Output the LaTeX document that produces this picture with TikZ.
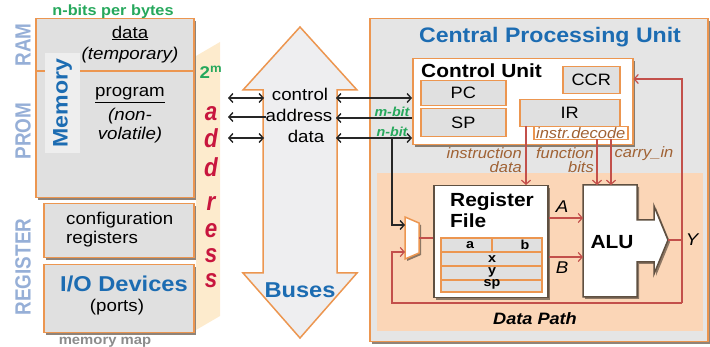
\documentclass[tikz,border=0pt]{standalone}
\usepackage{fontspec}
\setmainfont[FakeStretch=1.1]{Liberation Sans}
\newfontfamily\narrowfont[FakeStretch=0.86]{Liberation Sans}
\usetikzlibrary{arrows.meta,shadows}
\definecolor{orng}{RGB}{236,150,80}
\definecolor{boxgray}{RGB}{224,224,224}
\definecolor{cpugray}{RGB}{229,229,229}
\definecolor{peach}{RGB}{251,214,183}
\definecolor{beige}{RGB}{253,235,205}
\definecolor{redarr}{RGB}{195,80,75}
\definecolor{browntxt}{RGB}{160,98,52}
\definecolor{blu}{RGB}{28,108,178}
\definecolor{grn}{RGB}{38,168,92}
\definecolor{crim}{RGB}{200,22,62}
\definecolor{lblue}{RGB}{150,175,215}
\definecolor{busgray}{RGB}{238,238,240}
\definecolor{darkbrd}{RGB}{95,80,65}
\definecolor{mapgray}{RGB}{140,140,140}
\definecolor{membox}{RGB}{238,238,238}
\newcommand{\myfs}[2]{\fontsize{#1}{#2}\selectfont}
\begin{document}
\begin{tikzpicture}[x=1pt,y=-1pt,
  box/.style={draw=orng,line width=1.5pt,fill=boxgray,inner sep=0pt,anchor=north west},
  wbox/.style={draw=orng,line width=1.5pt,fill=white,inner sep=0pt,anchor=north west},
  shad/.style={drop shadow={shadow xshift=2pt,shadow yshift=-2pt,opacity=0.7,fill=darkbrd}},
  txt/.style={inner sep=0pt,font=\myfs{17}{19}},
  btip/.tip={Straight Barb[length=4pt,width=9pt]},
  blk/.style={draw=black!85,line width=1.4pt},
  red/.style={draw=redarr,line width=1.2pt},
  brn/.style={inner sep=0pt,text=browntxt,font=\myfs{15}{14}\itshape},
  vlab/.style={rotate=90,text=lblue,inner sep=0pt,font=\narrowfont\myfs{22}{24}\bfseries},
  addr/.style={text=crim,inner sep=0pt,font=\narrowfont\myfs{26}{26}\bfseries\itshape}]
\useasboundingbox (0,0) rectangle (710,347);
\clip (0,0) rectangle (710,347);

% ---------- memory side ----------
\node[box,minimum width=158,minimum height=179,shad] (mem) at (35,18) {};
\draw[orng,line width=2.5pt] (35,71) -- (193,71);
\node[txt,text=grn,font=\myfs{14.8}{16}\bfseries] (nbits) at (113,12) {n-bits per bytes};
\node[txt] (data) at (130,33) {\underline{data}};
\node[txt,font=\myfs{17}{19}\itshape] (temp) at (130,55) {(temporary)};
\node[fill=membox,minimum width=35,minimum height=100,inner sep=0pt,anchor=north west] (membx) at (45,53) {};
\node[rotate=90,text=blu,inner sep=0pt,font=\myfs{21}{22}\bfseries] (memlab) at (membx.center) {Memory};
\node[txt] (prog) at (130,95) {\underline{program}};
\node[txt,align=center,font=\myfs{17}{19}\itshape] (nonv) at (130,126) {(non-\\volatile)};

\node[box,minimum width=150,minimum height=54,shad] (cfg) at (43,203) {};
\node[txt,align=left,anchor=west] (cfgt) at (66,230) {configuration\\registers};
\node[box,minimum width=150,minimum height=68,shad] (io) at (43,264) {};
\node[txt,text=blu,font=\myfs{21.5}{22}\bfseries] (iot) at (124,284) {I/O Devices};
\node[txt] (ports) at (117,307) {(ports)};
\node[txt,text=mapgray,font=\myfs{13.5}{14}\bfseries] (mmap) at (105,342) {memory map};

\node[vlab] (ram) at (23,45) {RAM};
\node[vlab] (prom) at (23,131) {PROM};
\node[vlab] (regl) at (23,267) {REGISTER};

% address strip
\fill[beige] (196,56) -- (220,42) -- (220,316) -- (196,330) -- cycle;
\node[text=grn,inner sep=0pt,font=\myfs{17}{18}\bfseries] (twom) at (211,72) {2\textsuperscript{m}};
\node[addr] (a1) at (211,114) {a};
\node[addr] (a2) at (211,138) {d};
\node[addr] (a3) at (211,167) {d};
\node[addr] (a4) at (211,204) {r};
\node[addr] (a5) at (211,231) {e};
\node[addr] (a6) at (211,256) {s};
\node[addr] (a7) at (211,281) {s};

% ---------- buses ----------
\draw[draw=orng,line width=1.5pt,fill=busgray] (300,27) -- (357,90) -- (337,90) -- (337,273) -- (357,273) -- (300,338) -- (243,273) -- (263,273) -- (263,90) -- (243,90) -- cycle;
\node[txt,text=blu,font=\myfs{21.5}{22}\bfseries] (buses) at (300,290) {Buses};
\node[txt] (bctl) at (300,94) {control};
\node[txt] (badr) at (299,115) {address};
\node[txt] (bdat) at (306,136) {data};

% ---------- CPU ----------
\node[draw=orng,line width=1.5pt,fill=cpugray,inner sep=0pt,anchor=north west,minimum width=338,minimum height=323,shad] (cpu) at (369,18) {};
\node[txt,text=blu,font=\myfs{21}{22}\bfseries] (cput) at (550,37) {Central Processing Unit};
\node[wbox,minimum width=220,minimum height=86,shad] (cu) at (412,58) {};
\node[txt,anchor=west,font=\myfs{19}{20}\bfseries] (cut) at (421,71) {Control Unit};
\node[box,minimum width=85,minimum height=25,font=\myfs{16.5}{17}] (pc) at (420,80) {PC};
\node[box,minimum width=85,minimum height=28,font=\myfs{16.5}{17}] (sp) at (420,108) {SP};
\node[box,minimum width=57,minimum height=27,font=\myfs{16.5}{17}] (ccr) at (562,66) {CCR};
\node[box,minimum width=100,minimum height=27,font=\myfs{16.5}{17}] (ir) at (519,99) {IR};
\node[wbox,minimum width=94,minimum height=13] (dec) at (533,126) {};
\node[brn] (dect) at (dec.center) {instr.decode};

% data path
\fill[peach] (377,173) rectangle (703,331);
\node[txt,font=\myfs{16.5}{17}\bfseries\itshape] (dpt) at (535,319) {Data Path};

% register file
\node[draw=darkbrd,line width=1.5pt,fill=white,inner sep=0pt,anchor=north west,minimum width=114,minimum height=112,shad] (rf) at (433,185) {};
\node[txt,anchor=north west,align=left,font=\myfs{19}{21}\bfseries] (rft) at (450,193) {Register\\File};
\begin{scope}[draw=orng,line width=1.3pt,fill=boxgray]
\filldraw (441,238) rectangle (542,292);
\draw (441,252) -- (542,252) (441,266) -- (542,266) (441,280) -- (542,280) (492,238) -- (492,252);
\end{scope}
\node[inner sep=0pt,font=\myfs{13}{13}\bfseries] (ra) at (470,245) {a};
\node[inner sep=0pt,font=\myfs{13}{13}\bfseries] (rb) at (525,245) {b};
\node[inner sep=0pt,font=\myfs{13}{13}\bfseries] (rx) at (492,259) {x};
\node[inner sep=0pt,font=\myfs{13}{13}\bfseries] (ry) at (492,272) {y};
\node[inner sep=0pt,font=\myfs{13}{13}\bfseries] (rsp) at (492,284) {sp};

% ALU
\draw[draw=darkbrd,line width=1.5pt,fill=white,shad] (583,185) -- (637,185) -- (637,220) -- (654,220) -- (654,206) -- (668,240) -- (654,274) -- (654,262) -- (637,262) -- (637,297) -- (583,297) -- cycle;
\node[txt,font=\myfs{19}{20}\bfseries] (alu) at (612,242) {ALU};
\coordinate (aluA) at (583,218);
\coordinate (aluB) at (583,257);
\coordinate (aluout) at (668,240);

% mux
\draw[draw=orng,line width=1.5pt,fill=white,shad] (405,217) -- (419,223) -- (419,253) -- (405,259) -- cycle;
\coordinate (muxin1) at (405,225);
\coordinate (muxin2) at (405,252);
\coordinate (muxout) at (419,238);

% ---------- connectors ----------
\coordinate (mC) at (228,98);  \coordinate (bLC) at (264,98);
\coordinate (mA) at (228,117); \coordinate (bLA) at (266,117);
\coordinate (mD) at (228,138); \coordinate (bLD) at (264,138);
\coordinate (bRC) at (336,98);  \coordinate (cuC) at (412,98);
\coordinate (bRA) at (336,118); \coordinate (cuA) at (412,118);
\coordinate (bRD) at (336,138); \coordinate (cuD) at (412,138);
\coordinate (br) at (392,138);
\draw[blk,btip-btip] (mC) -- (bLC);
\draw[blk,btip-] (mA) -- (bLA);
\draw[blk,btip-btip] (mD) -- (bLD);
\draw[blk,btip-btip] (bRC) -- (cuC);
\draw[blk,btip-] (bRA) -- (cuA);
\draw[blk,btip-btip] (bRD) -- (cuD);
\draw[blk,-btip] (br) |- (muxin1);
\node[inner sep=0pt,text=grn,font=\myfs{13}{13}\bfseries\itshape] (mbit) at (392,112) {m-bit};
\node[inner sep=0pt,text=grn,font=\myfs{13}{13}\bfseries\itshape] (nbit) at (392,132) {n-bit};

\coordinate (irout) at (526,126);
\coordinate (rfin) at (526,185);
\coordinate (dec1) at (597,139);
\coordinate (alu1) at (597,185);
\coordinate (dec2) at (611,139);
\coordinate (alu2) at (611,185);
\draw[red,-btip] (irout) -- (rfin);
\draw[red,-btip] (dec1) -- (alu1);
\draw[red,-btip] (dec2) -- (alu2);
\draw[red,-btip] (rf.east |- aluA) -- (aluA);
\draw[red,-btip] (rf.east |- aluB) -- (aluB);
\draw[red] (muxout) -- (rf.west |- muxout);
\coordinate (ynode) at (682,240);
\coordinate (ytop) at (682,79);
\coordinate (ybot) at (682,303);
\coordinate (fbl) at (392,303);
\draw[red] (aluout) -- (ynode);
\draw[red,-btip] (ybot) -- (ytop) -- (cu.east |- ytop);
\draw[red,-btip] (ybot) -- (fbl) |- (muxin2);

\node[brn,align=right,anchor=east] (instl) at (522,160) {instruction\\data};
\node[brn,align=right,anchor=east] (funcl) at (594,160) {function\\bits};
\node[brn] (carry) at (644,154) {carry\_in};
\node[inner sep=0pt,font=\myfs{17}{17}\itshape] (la) at (562,207) {A};
\node[inner sep=0pt,font=\myfs{17}{17}\itshape] (lb) at (562,268) {B};
\node[inner sep=0pt,font=\myfs{17}{17}] (ly) at (692,240) {\itshape Y};
\end{tikzpicture}
\end{document}
